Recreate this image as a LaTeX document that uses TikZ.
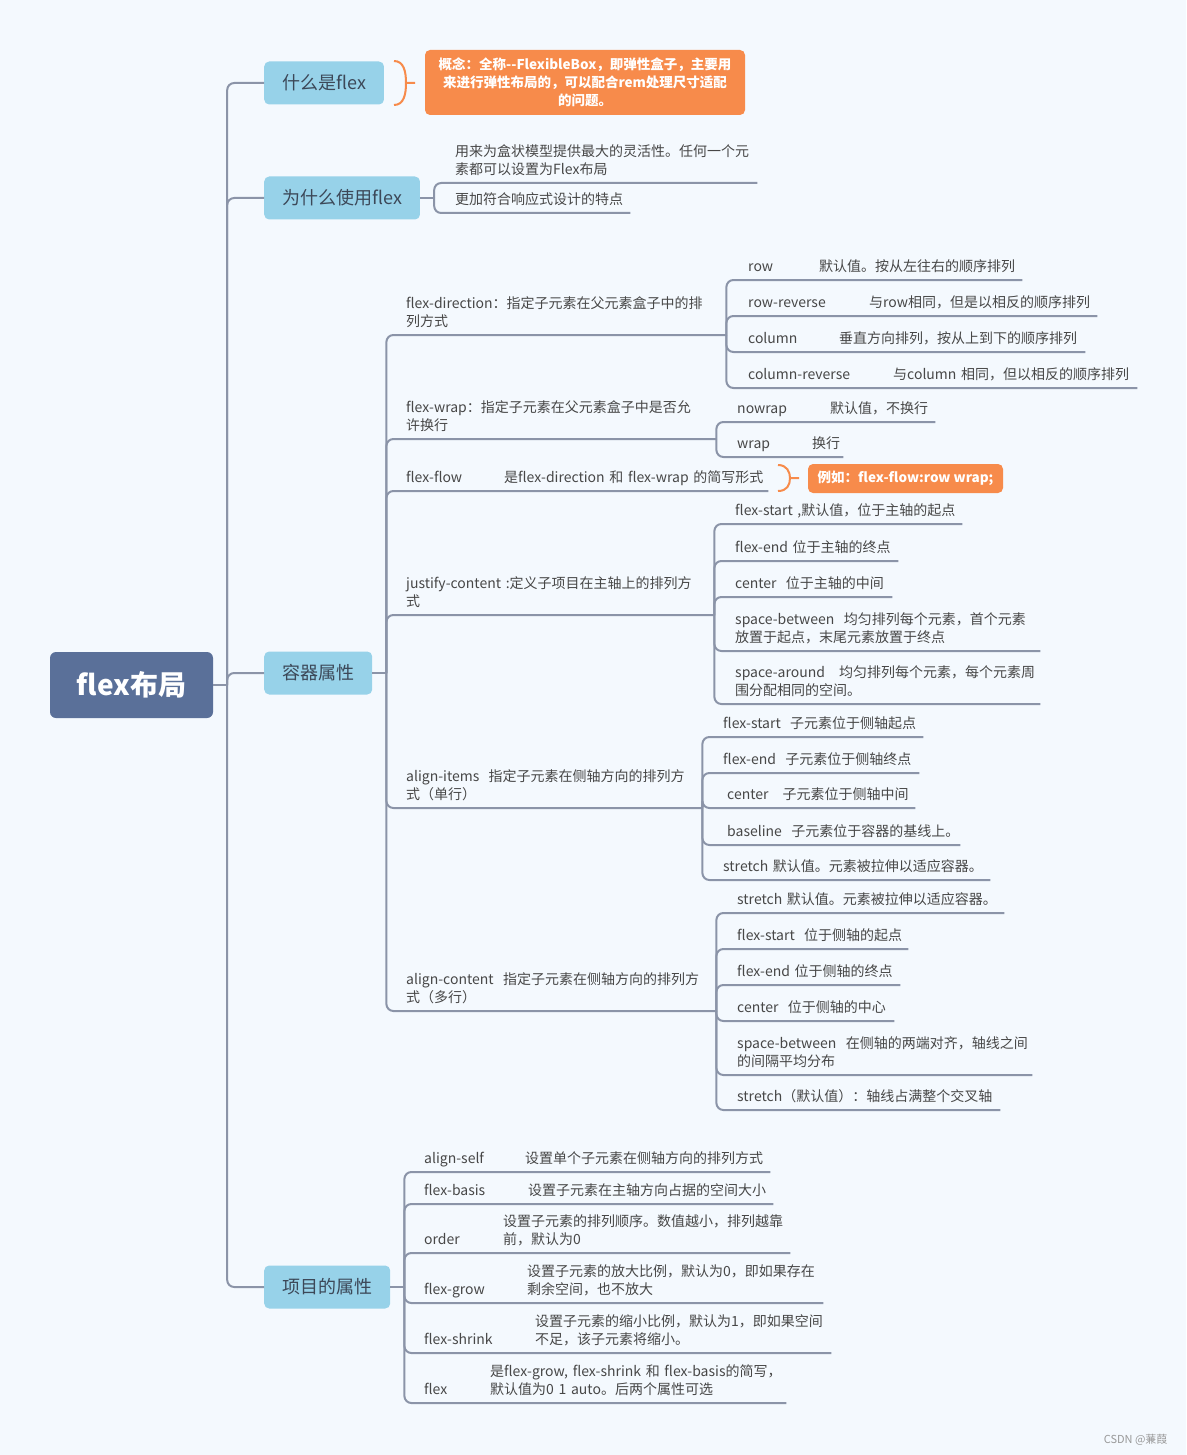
\documentclass[tikz,border=0pt]{standalone}
\usepackage{fontspec}
\setmainfont{Noto Sans CJK SC}
\usetikzlibrary{positioning}
\definecolor{bgblue}{HTML}{F4F9FE}
\definecolor{linegray}{HTML}{8B94A8}
\definecolor{rootblue}{HTML}{5A7099}
\definecolor{topicblue}{HTML}{97D2E9}
\definecolor{topictext}{HTML}{3C4858}
\definecolor{noteorange}{HTML}{F78B4B}
\definecolor{leaftext}{HTML}{474747}
\newcommand\leaffont{\fontsize{14}{18}\selectfont\hyphenpenalty=10000\exhyphenpenalty=10000}
\newcommand\kv[3]{\makebox[#1][l]{#2}#3}
\newcommand\kvb[3]{\makebox[#1][l]{#2}\begin{tabular}[b]{@{}l@{}}#3\end{tabular}}
\tikzset{
  root/.style={fill=rootblue, rounded corners=6pt, minimum width=163pt, minimum height=66pt,
    text=white, font=\fontsize{28}{32}\selectfont\bfseries},
  topic/.style={anchor=west, fill=topicblue, rounded corners=5pt, minimum height=43pt,
    inner xsep=18pt, text=topictext, font=\fontsize{18}{22}\selectfont},
  note/.style={fill=noteorange, rounded corners=5pt, inner sep=0pt, align=center,
    text=white, font=\fontsize{13.5}{18}\selectfont\bfseries},
  leaf/.style={anchor=south west, inner xsep=0pt, inner ysep=2.6pt, text width=#1,
    align=left, font=\leaffont, text=leaftext, execute at end node=\strut},
  link/.style={draw=linegray, line width=2pt, rounded corners=7pt},
  bracket/.style={draw=noteorange, line width=2pt},
  watermark/.style={anchor=east, text=black!40, font=\fontsize{11}{13}\selectfont}
}
\begin{document}
\begin{tikzpicture}[x=1pt, y=-1pt]
\useasboundingbox[fill=bgblue] (0,0) rectangle (1186,1455);
\node[root] (root) at (131.5,685) {flex布局};
\coordinate[right=14pt of root] (rootj);
\node[topic] (what) at (264,83) {什么是flex};
\node[topic] (why) at (264,198) {为什么使用flex};
\node[topic] (cont) at (264,673) {容器属性};
\node[topic] (item) at (264,1287) {项目的属性};
\draw[link] (root.east) -- (rootj);
\draw[link] (rootj) |- (what.west);
\draw[link] (rootj) |- (why.west);
\draw[link] (rootj) |- (cont.west);
\draw[link] (rootj) |- (item.west);

\node[note, minimum width=320pt, minimum height=65pt] (whatnote) at (585,82.5)
  {概念：全称{-}{-}FlexibleBox，即弹性盒子，主要用\\来进行弹性布局的，可以配合rem处理尺寸适配\\的问题。};
\draw[bracket] (394,61) .. controls (404,61) and (406,72) .. (406,83)
  .. controls (406,94) and (404,105) .. (394,105) (406,83) -- (415,83);

\coordinate[right=14pt of why] (whyj);
\node[leaf=302pt] (why1) at (455,183) {用来为盒状模型提供最大的灵活性。任何一个元\\素都可以设置为Flex布局};
\node[leaf=175pt] (why2) at (455,213) {更加符合响应式设计的特点};
\draw[link] (why.east) -- (whyj);
\draw[link] (whyj) |- (why1.south east);
\draw[link] (whyj) |- (why2.south east);

\coordinate[right=14pt of cont] (contj);
\node[leaf=320pt] (fd) at (406,335) {flex-direction：指定子元素在父元素盒子中的排\\列方式};
\node[leaf=310pt] (fw) at (406,439) {flex-wrap：指定子元素在父元素盒子中是否允\\许换行};
\node[leaf=362pt] (ff) at (406,491) {\kv{98pt}{flex-flow}{是flex-direction 和 flex-wrap 的简写形式}};
\node[leaf=308pt] (jc) at (406,615) {justify-content~:定义子项目在主轴上的排列方\\式};
\node[leaf=296pt] (ai) at (406,808) {align-items~~指定子元素在侧轴方向的排列方\\式（单行）};
\node[leaf=310pt] (ac) at (406,1011) {align-content~~指定子元素在侧轴方向的排列方\\式（多行）};
\draw[link] (cont.east) -- (contj);
\draw[link] (contj) |- (fd.south east);
\draw[link] (contj) |- (fw.south east);
\draw[link] (contj) |- (ff.south east);
\draw[link] (contj) |- (jc.south east);
\draw[link] (contj) |- (ai.south east);
\draw[link] (contj) |- (ac.south east);

\node[leaf=274pt] (row) at (748,280) {\kv{71pt}{row}{默认值。按从左往右的顺序排列}};
\node[leaf=349pt] (rowrev) at (748,316) {\kv{121pt}{row-reverse}{与row相同，但是以相反的顺序排列}};
\node[leaf=337pt] (col) at (748,352) {\kv{91pt}{column}{垂直方向排列，按从上到下的顺序排列}};
\node[leaf=389pt] (colrev) at (748,388) {\kv{145pt}{column-reverse}{与column~相同，但以相反的顺序排列}};
\draw[link] (fd.south east) |- (row.south east);
\draw[link] (fd.south east) |- (rowrev.south east);
\draw[link] (fd.south east) |- (col.south east);
\draw[link] (fd.south east) |- (colrev.south east);

\node[leaf=198pt] (nowrap) at (737,422) {\kv{93pt}{nowrap}{默认值，不换行}};
\node[leaf=106pt] (wrap) at (737,457) {\kv{75pt}{wrap}{换行}};
\draw[link] (fw.south east) |- (nowrap.south east);
\draw[link] (fw.south east) |- (wrap.south east);

\node[note, minimum width=195pt, minimum height=29pt] (flownote) at (905.5,478.5) {例如：flex-flow:row wrap;};
\draw[bracket] (778,465) .. controls (787,465) and (790,472) .. (790,478)
  .. controls (790,485) and (787,491) .. (778,491) (790,478) -- (799,478);

\node[leaf=227pt] (jc1) at (735,524) {flex-start~,默认值，位于主轴的起点};
\node[leaf=163pt] (jc2) at (735,561) {flex-end~位于主轴的终点};
\node[leaf=157pt] (jc3) at (735,597) {center~~位于主轴的中间};
\node[leaf=305pt] (jc4) at (735,651) {space-between~~均匀排列每个元素，首个元素\\放置于起点，末尾元素放置于终点};
\node[leaf=305pt] (jc5) at (735,704) {space-around~~~均匀排列每个元素，每个元素周\\围分配相同的空间。};
\draw[link] (jc.south east) |- (jc1.south east);
\draw[link] (jc.south east) |- (jc2.south east);
\draw[link] (jc.south east) |- (jc3.south east);
\draw[link] (jc.south east) |- (jc4.south east);
\draw[link] (jc.south east) |- (jc5.south east);

\node[leaf=200pt] (ai1) at (723,737) {flex-start~~子元素位于侧轴起点};
\node[leaf=196pt] (ai2) at (723,773) {flex-end~~子元素位于侧轴终点};
\node[leaf=192pt] (ai3) at (723,808) {\hspace*{4pt}center~~~子元素位于侧轴中间};
\node[leaf=237pt] (ai4) at (723,845) {\mbox{\hspace*{4pt}baseline~~子元素位于容器的基线上。}};
\node[leaf=267pt] (ai5) at (723,880) {stretch~默认值。元素被拉伸以适应容器。};
\draw[link] (ai.south east) |- (ai1.south east);
\draw[link] (ai.south east) |- (ai2.south east);
\draw[link] (ai.south east) |- (ai3.south east);
\draw[link] (ai.south east) |- (ai4.south east);
\draw[link] (ai.south east) |- (ai5.south east);

\node[leaf=267pt] (ac1) at (737,913) {stretch~默认值。元素被拉伸以适应容器。};
\node[leaf=171pt] (ac2) at (737,949) {flex-start~~位于侧轴的起点};
\node[leaf=163pt] (ac3) at (737,985) {flex-end~位于侧轴的终点};
\node[leaf=157pt] (ac4) at (737,1021) {center~~位于侧轴的中心};
\node[leaf=295pt] (ac5) at (737,1075) {space-between~~在侧轴的两端对齐，轴线之间\\的间隔平均分布};
\node[leaf=263pt] (ac6) at (737,1110) {stretch（默认值）：轴线占满整个交叉轴};
\draw[link] (ac.south east) |- (ac1.south east);
\draw[link] (ac.south east) |- (ac2.south east);
\draw[link] (ac.south east) |- (ac3.south east);
\draw[link] (ac.south east) |- (ac4.south east);
\draw[link] (ac.south east) |- (ac5.south east);
\draw[link] (ac.south east) |- (ac6.south east);

\coordinate[right=14pt of item] (itemj);
\node[leaf=346pt] (aself) at (424,1172) {\kv{101pt}{align-self}{设置单个子元素在侧轴方向的排列方式}};
\node[leaf=349pt] (basis) at (424,1204) {\kv{104pt}{flex-basis}{设置子元素在主轴方向占据的空间大小}};
\node[leaf=366pt] (order) at (424,1253) {\kvb{79pt}{order}{设置子元素的排列顺序。数值越小，排列越靠\\前，默认为0}};
\node[leaf=399pt] (grow) at (424,1303) {\kvb{103pt}{flex-grow}{设置子元素的放大比例，默认为0，即如果存在\\剩余空间，也不放大}};
\node[leaf=407pt] (shrink) at (424,1353) {\kvb{111pt}{flex-shrink}{设置子元素的缩小比例，默认为1，即如果空间\\不足，该子元素将缩小。}};
\node[leaf=362pt] (flex) at (424,1403) {\kvb{66pt}{flex}{是flex-grow, flex-shrink 和 flex-basis的简写，\\默认值为0 1 auto。后两个属性可选}};
\draw[link] (item.east) -- (itemj);
\draw[link] (itemj) |- (aself.south east);
\draw[link] (itemj) |- (basis.south east);
\draw[link] (itemj) |- (order.south east);
\draw[link] (itemj) |- (grow.south east);
\draw[link] (itemj) |- (shrink.south east);
\draw[link] (itemj) |- (flex.south east);

\node[watermark] (wm) at (1171,1440) {CSDN @蒹葭};
\end{tikzpicture}
\end{document}
